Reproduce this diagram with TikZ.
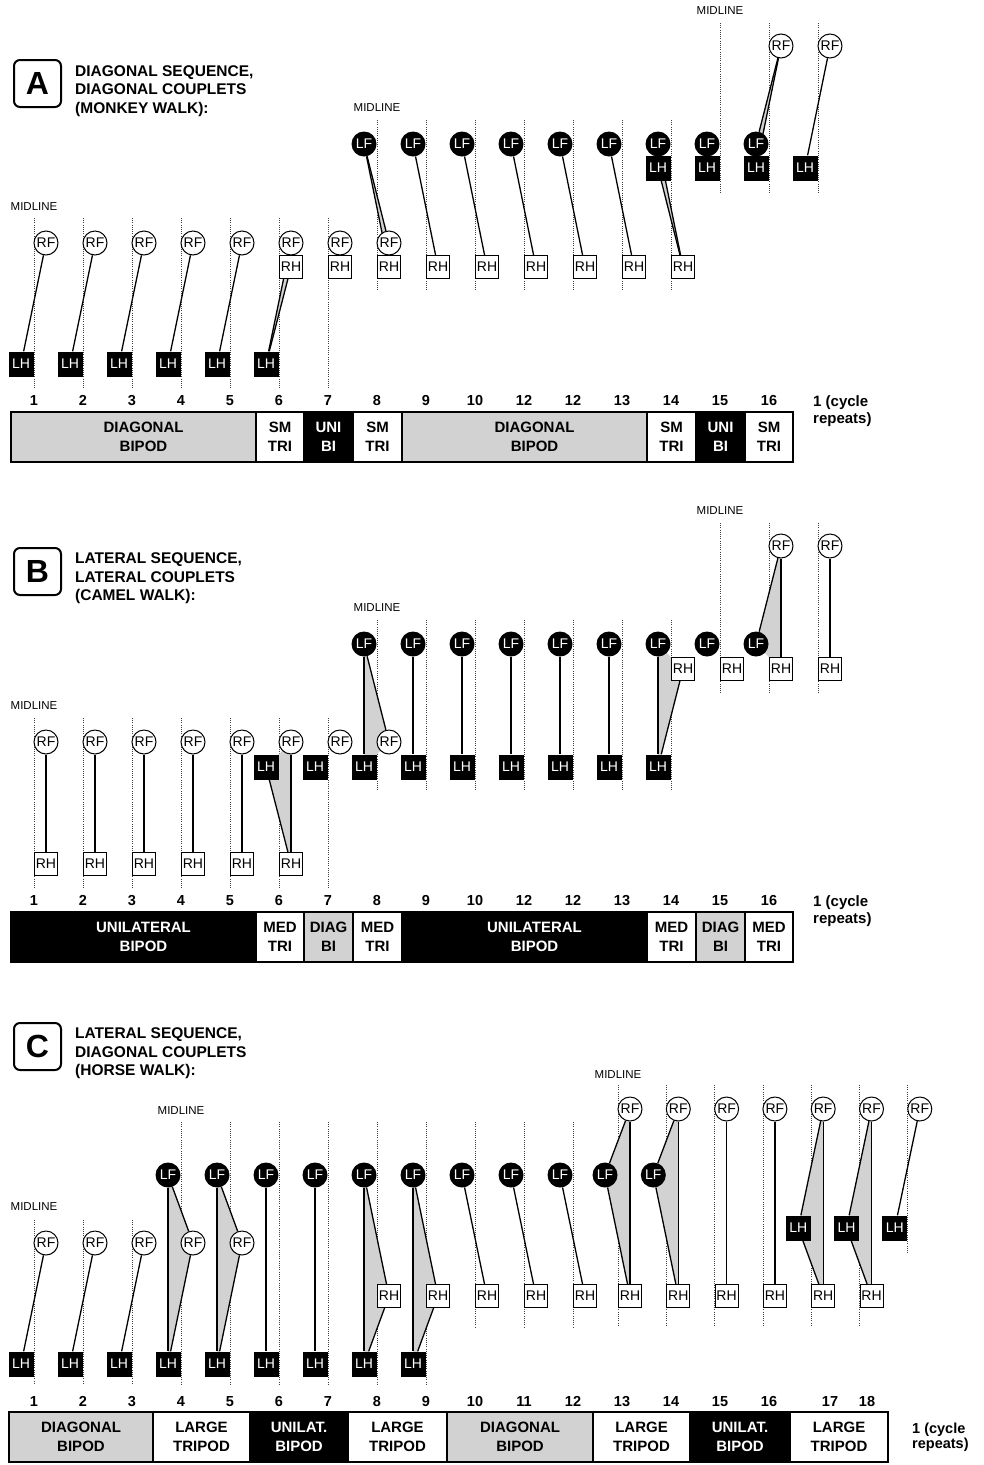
\documentclass[tikz,border=0pt]{standalone}
\usepackage{fontspec}
\setmainfont{Liberation Sans}
\usetikzlibrary{positioning,backgrounds}

\newcommand{\fsz}[2]{\fontsize{#1}{#2}\selectfont}

\begin{document}
\begin{tikzpicture}[
  x=1pt, y=-1pt,
  foot/.style={inner sep=0pt, font=\fsz{14}{14}},
  lf/.style={foot, circle, fill=black, text=white, minimum size=25pt},
  rf/.style={foot, circle, draw, fill=white, line width=1pt, minimum size=24pt},
  lh/.style={foot, rectangle, fill=black, text=white, minimum size=25pt},
  rh/.style={foot, rectangle, draw, fill=white, line width=1pt, minimum size=23pt},
  midline/.style={black!75, line width=0.8pt, dash pattern=on 1pt off 1.2pt},
  midlabel/.style={inner sep=0pt, font=\fsz{11.5}{12}},
  leg/.style={line width=1.3pt},
  support/.style={fill=gray!35},
  panel/.style={draw, rounded corners=6pt, line width=2pt, minimum size=47pt, inner sep=0pt, font=\fsz{32}{32}\bfseries},
  title/.style={anchor=north west, align=left, inner sep=0pt, font=\fsz{15.5}{18.5}\bfseries},
  framenum/.style={anchor=base, inner sep=0pt, font=\fsz{14.5}{15}\bfseries},
  seg/.style={draw, line width=1.2pt, outer sep=0pt, inner sep=0pt, minimum height=50pt, align=center, font=\fsz{15}{18.5}\bfseries},
  grayseg/.style={seg, fill=gray!35},
  whiteseg/.style={seg, fill=white},
  blackseg/.style={seg, fill=black, text=white},
  barlabel/.style={inner sep=0pt, align=center, font=\fsz{15}{18.5}\bfseries},
  repeats/.style={anchor=north west, align=left, inner sep=0pt, font=\fsz{15}{17}\bfseries}
  ]
\useasboundingbox (0,0) rectangle (983,1465);

% ---------- A: monkey walk ----------
\node[panel] (a-box) at (37.5,83.5) {A};
\node[title] (a-title) at (75,65) {DIAGONAL SEQUENCE,\\DIAGONAL COUPLETS\\(MONKEY WALK):};
\node[midlabel] (a-mid1) at (34,207) {MIDLINE};
\node[midlabel] (a-mid2) at (377,108) {MIDLINE};
\node[midlabel] (a-mid3) at (720,11) {MIDLINE};

\foreach \i in {1,...,8}   \node[rf] (a-rf-\i) at (49*\i-3,243) {RF};
\foreach \i in {16,17}     \node[rf] (a-rf-\i) at (49*\i-3,46) {RF};
\foreach \i in {6,...,14}  \node[rh] (a-rh-\i) at (49*\i-3,267) {RH};
\foreach \i in {8,...,16}  \node[lf] (a-lf-\i) at (49*\i-28,144) {LF};
\foreach \i in {1,...,6}   \node[lh] (a-lh-\i) at (49*\i-28,364) {LH};
\foreach \i in {14,...,17} \node[lh] (a-lh-\i) at (49*\i-28,168) {LH};

\begin{scope}[on background layer]
  \foreach \i in {1,...,17} {
    \pgfmathsetmacro\ytop{\i<8 ? 218 : (\i<15 ? 120 : 23)}
    \draw[midline] (49*\i-15,\ytop) -- ++(0,170);
  }
  \fill[support] (a-rf-6.center) -- (a-rh-6.center) -- (a-lh-6.center) -- cycle;
  \fill[support] (a-lf-8.center) -- (a-rf-8.center) -- (a-rh-8.center) -- cycle;
  \fill[support] (a-lf-14.center) -- (a-lh-14.center) -- (a-rh-14.center) -- cycle;
  \fill[support] (a-rf-16.center) -- (a-lf-16.center) -- (a-lh-16.center) -- cycle;
  \foreach \i in {1,...,6} \draw[leg] (a-rf-\i) -- (a-lh-\i);
  \draw[leg] (a-rh-6) -- (a-lh-6);
  \draw[leg] (a-lf-8) -- (a-rf-8);
  \foreach \i in {8,...,14} \draw[leg] (a-lf-\i) -- (a-rh-\i);
  \draw[leg] (a-lh-14) -- (a-rh-14);
  \draw[leg] (a-rf-16) -- (a-lf-16);
  \foreach \i in {16,17} \draw[leg] (a-rf-\i) -- (a-lh-\i);
\end{scope}

\foreach \n [count=\i] in {1,2,3,4,5,6,7,8,9,10,12,12,13,14,15,16}
  \node[framenum] (a-num-\i) at (49*\i-15,405) {\n};
\node[repeats] (a-rep) at (813,395) {1 (cycle\\repeats)};

\node[grayseg, minimum width=245pt, anchor=west] (a-bar1) at (11,437) {};
\node[barlabel] (a-lab1) at ([xshift=10pt]a-bar1.center) {DIAGONAL\\BIPOD};
\node[whiteseg, minimum width=48pt, right=0pt of a-bar1] (a-bar2) {SM\\TRI};
\node[blackseg, minimum width=49pt, right=0pt of a-bar2] (a-bar3) {UNI\\BI};
\node[whiteseg, minimum width=49pt, right=0pt of a-bar3] (a-bar4) {SM\\TRI};
\node[grayseg, minimum width=245pt, right=0pt of a-bar4] (a-bar5) {};
\node[barlabel] (a-lab5) at ([xshift=10pt]a-bar5.center) {DIAGONAL\\BIPOD};
\node[whiteseg, minimum width=49pt, right=0pt of a-bar5] (a-bar6) {SM\\TRI};
\node[blackseg, minimum width=49pt, right=0pt of a-bar6] (a-bar7) {UNI\\BI};
\node[whiteseg, minimum width=48pt, right=0pt of a-bar7] (a-bar8) {SM\\TRI};

% ---------- B: camel walk ----------
\node[panel] (b-box) at (37.5,571.5) {B};
\node[title] (b-title) at (75,552.5) {LATERAL SEQUENCE,\\LATERAL COUPLETS\\(CAMEL WALK):};
\node[midlabel] (b-mid1) at (34,706) {MIDLINE};
\node[midlabel] (b-mid2) at (377,608) {MIDLINE};
\node[midlabel] (b-mid3) at (720,511) {MIDLINE};

\foreach \i in {1,...,8}   \node[rf] (b-rf-\i) at (49*\i-3,742) {RF};
\foreach \i in {16,17}     \node[rf] (b-rf-\i) at (49*\i-3,546) {RF};
\foreach \i in {1,...,6}   \node[rh] (b-rh-\i) at (49*\i-3,864) {RH};
\foreach \i in {14,...,17} \node[rh] (b-rh-\i) at (49*\i-3,669) {RH};
\foreach \i in {8,...,16}  \node[lf] (b-lf-\i) at (49*\i-28,644) {LF};
\foreach \i in {6,...,14}  \node[lh] (b-lh-\i) at (49*\i-28,767) {LH};

\begin{scope}[on background layer]
  \foreach \i in {1,...,17} {
    \pgfmathsetmacro\ytop{\i<8 ? 718 : (\i<15 ? 620 : 523)}
    \draw[midline] (49*\i-15,\ytop) -- ++(0,170);
  }
  \fill[support] (b-rf-6.center) -- (b-lh-6.center) -- (b-rh-6.center) -- cycle;
  \fill[support] (b-lf-8.center) -- (b-rf-8.center) -- (b-lh-8.center) -- cycle;
  \fill[support] (b-lf-14.center) -- (b-rh-14.center) -- (b-lh-14.center) -- cycle;
  \fill[support] (b-rf-16.center) -- (b-lf-16.center) -- (b-rh-16.center) -- cycle;
  \foreach \i in {1,...,6} \draw[leg] (b-rf-\i) -- (b-rh-\i);
  \draw[leg] (b-lh-6) -- (b-rh-6);
  \foreach \i in {8,...,14} \draw[leg] (b-lf-\i) -- (b-lh-\i);
  \draw[leg] (b-lf-8) -- (b-rf-8);
  \draw[leg] (b-lh-14) -- (b-rh-14);
  \foreach \i in {16,17} \draw[leg] (b-rf-\i) -- (b-rh-\i);
  \draw[leg] (b-rf-16) -- (b-lf-16);
\end{scope}

\foreach \n [count=\i] in {1,2,3,4,5,6,7,8,9,10,12,12,13,14,15,16}
  \node[framenum] (b-num-\i) at (49*\i-15,905) {\n};
\node[repeats] (b-rep) at (813,895) {1 (cycle\\repeats)};

\node[blackseg, minimum width=245pt, anchor=west] (b-bar1) at (11,937) {};
\node[barlabel, text=white] (b-lab1) at ([xshift=10pt]b-bar1.center) {UNILATERAL\\BIPOD};
\node[whiteseg, minimum width=48pt, right=0pt of b-bar1] (b-bar2) {MED\\TRI};
\node[grayseg, minimum width=49pt, right=0pt of b-bar2] (b-bar3) {DIAG\\BI};
\node[whiteseg, minimum width=49pt, right=0pt of b-bar3] (b-bar4) {MED\\TRI};
\node[blackseg, minimum width=245pt, right=0pt of b-bar4] (b-bar5) {};
\node[barlabel, text=white] (b-lab5) at ([xshift=10pt]b-bar5.center) {UNILATERAL\\BIPOD};
\node[whiteseg, minimum width=49pt, right=0pt of b-bar5] (b-bar6) {MED\\TRI};
\node[grayseg, minimum width=49pt, right=0pt of b-bar6] (b-bar7) {DIAG\\BI};
\node[whiteseg, minimum width=48pt, right=0pt of b-bar7] (b-bar8) {MED\\TRI};

% ---------- C: horse walk ----------
\node[panel] (c-box) at (37.5,1046.5) {C};
\node[title] (c-title) at (75,1027.5) {LATERAL SEQUENCE,\\DIAGONAL COUPLETS\\(HORSE WALK):};
\node[midlabel] (c-mid1) at (34,1207) {MIDLINE};
\node[midlabel] (c-mid2) at (181,1111) {MIDLINE};
\node[midlabel] (c-mid3) at (618,1075) {MIDLINE};

\foreach \i in {1,...,5}   \node[rf] (c-rf-\i) at (49*\i-3,1243) {RF};
\foreach \i in {13,...,19} \node[rf] (c-rf-\i) at (48.3*\i+2.1,1109) {RF};
\foreach \i in {8,...,12}  \node[rh] (c-rh-\i) at (49*\i-3,1296) {RH};
\foreach \i in {13,...,18} \node[rh] (c-rh-\i) at (48.3*\i+2.1,1296) {RH};
\foreach \i in {4,...,12}  \node[lf] (c-lf-\i) at (49*\i-28,1175) {LF};
\foreach \i in {13,14}     \node[lf] (c-lf-\i) at (48.3*\i-22.9,1175) {LF};
\foreach \i in {1,...,9}   \node[lh] (c-lh-\i) at (49*\i-28,1364) {LH};
\foreach \i in {17,18,19}  \node[lh] (c-lh-\i) at (48.3*\i-22.9,1228) {LH};

\begin{scope}[on background layer]
  \foreach \i in {1,2,3}     \draw[midline] (49*\i-15,1220) -- ++(0,165);
  \foreach \i in {4,...,9}   \draw[midline] (49*\i-15,1122) -- ++(0,263);
  \foreach \i in {10,11,12}  \draw[midline] (49*\i-15,1122) -- ++(0,205);
  \foreach \i in {13,...,18} \draw[midline] (48.3*\i-9.9,1085) -- ++(0,242);
  \draw[midline] (48.3*19-9.9,1085) -- ++(0,168);
  \foreach \i in {4,5} \fill[support] (c-lf-\i.center) -- (c-rf-\i.center) -- (c-lh-\i.center) -- cycle;
  \foreach \i in {8,9} \fill[support] (c-lf-\i.center) -- (c-rh-\i.center) -- (c-lh-\i.center) -- cycle;
  \foreach \i in {13,14} \fill[support] (c-rf-\i.center) -- (c-lf-\i.center) -- (c-rh-\i.center) -- cycle;
  \foreach \i in {17,18} \fill[support] (c-rf-\i.center) -- (c-lh-\i.center) -- (c-rh-\i.center) -- cycle;
  \foreach \i in {1,...,5} \draw[leg] (c-rf-\i) -- (c-lh-\i);
  \foreach \i in {4,...,9} \draw[leg] (c-lf-\i) -- (c-lh-\i);
  \foreach \i in {4,5} \draw[leg] (c-lf-\i) -- (c-rf-\i);
  \foreach \i in {8,...,14} \draw[leg] (c-lf-\i) -- (c-rh-\i);
  \foreach \i in {8,9} \draw[leg] (c-rh-\i) -- (c-lh-\i);
  \foreach \i in {13,...,18} \draw[leg] (c-rf-\i) -- (c-rh-\i);
  \foreach \i in {13,14} \draw[leg] (c-rf-\i) -- (c-lf-\i);
  \foreach \i in {17,18,19} \draw[leg] (c-rf-\i) -- (c-lh-\i);
  \foreach \i in {17,18} \draw[leg] (c-lh-\i) -- (c-rh-\i);
\end{scope}

\foreach \i in {1,...,16} \node[framenum] (c-num-\i) at (49*\i-15,1406) {\i};
\node[framenum] (c-num-17) at (830,1406) {17};
\node[framenum] (c-num-18) at (867,1406) {18};
\node[repeats, font=\fsz{14.5}{15}\bfseries] (c-rep) at (912,1423) {1 (cycle\\repeats)};

\node[grayseg, minimum width=144pt, anchor=west] (c-bar1) at (9,1437) {DIAGONAL\\BIPOD};
\node[whiteseg, minimum width=97pt, right=0pt of c-bar1] (c-bar2) {LARGE\\TRIPOD};
\node[blackseg, minimum width=98pt, right=0pt of c-bar2] (c-bar3) {UNILAT.\\BIPOD};
\node[whiteseg, minimum width=99pt, right=0pt of c-bar3] (c-bar4) {LARGE\\TRIPOD};
\node[grayseg, minimum width=146pt, right=0pt of c-bar4] (c-bar5) {DIAGONAL\\BIPOD};
\node[whiteseg, minimum width=97pt, right=0pt of c-bar5] (c-bar6) {LARGE\\TRIPOD};
\node[blackseg, minimum width=100pt, right=0pt of c-bar6] (c-bar7) {UNILAT.\\BIPOD};
\node[whiteseg, minimum width=98pt, right=0pt of c-bar7] (c-bar8) {LARGE\\TRIPOD};

\end{tikzpicture}
\end{document}
